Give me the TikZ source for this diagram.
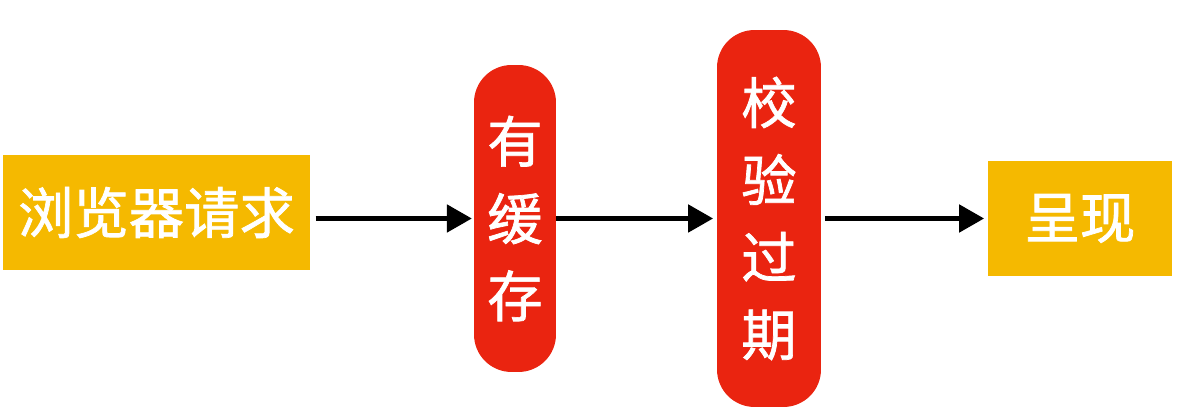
\documentclass[tikz,border=0pt]{standalone}
\usepackage{fontspec}
\newfontfamily\cjk[FakeBold=1.3]{Noto Sans CJK SC}
\usepackage{tikz}
\usetikzlibrary{arrows.meta}
\definecolor{boxyellow}{RGB}{245,185,0}
\definecolor{boxred}{RGB}{234,36,16}
\tikzset{
  flatbox/.style={fill=boxyellow, text=white, inner sep=0pt, font=\cjk\fontsize{31.5}{44}\selectfont},
  pillbox/.style={fill=boxred, text=white, inner sep=0pt, rounded corners=0.75cm, align=center, font=\cjk\fontsize{31.5}{44}\selectfont},
  flow/.style={line width=2.8pt, -{Triangle[length=0.5cm, width=0.54cm]}}
}

\begin{document}
\begin{tikzpicture}[x=0.02cm,y=-0.02cm]
    \useasboundingbox (0,0) rectangle (1178,418);
    % boxes
    \node[flatbox, minimum width=6.14cm, minimum height=2.3cm] (req) at (156.5,212.5) {浏览器请求};
    \node[pillbox, minimum width=1.64cm, minimum height=6.14cm] (cache) at (515,218.5) {有\\缓\\存};
    \node[pillbox, minimum width=2.08cm, minimum height=7.54cm] (check) at (769,218.5) {校\\验\\过\\期};
    \node[flatbox, minimum width=3.68cm, minimum height=2.3cm] (show) at (1080,218.5) {呈现};
    % arrows
    \draw [flow, shorten <=3, shorten >=1] (req.east |- cache) -- (cache);
    \draw [flow, shorten <=0, shorten >=2] (cache) -- (check);
    \draw [flow, shorten <=2, shorten >=2] (check) -- (show);
\end{tikzpicture}
\end{document}
